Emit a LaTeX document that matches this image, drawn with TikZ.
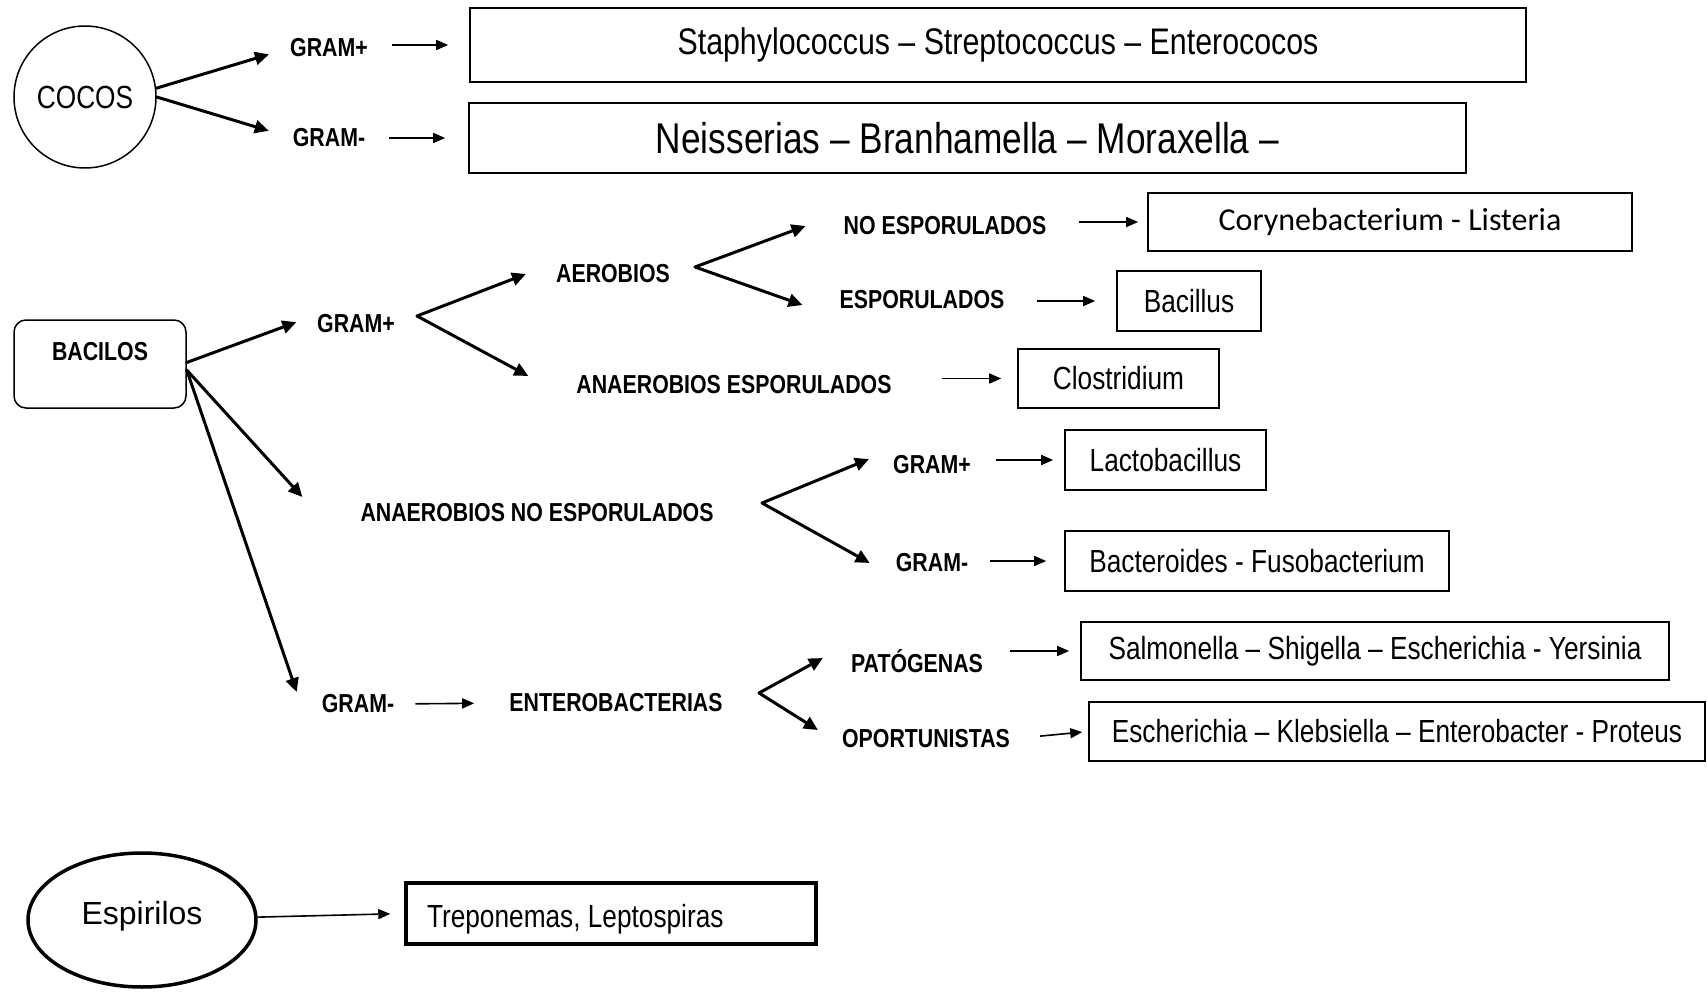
\documentclass[tikz,border=0pt]{standalone}
\usepackage{fontspec}
\setmainfont{Liberation Sans}[FakeStretch=0.82]
\newfontfamily\widefont{Liberation Sans}
\newfontfamily\calfont{Carlito}
\usetikzlibrary{arrows.meta,shapes.geometric}
\newcommand{\fsz}[1]{\fontsize{#1}{#1}\selectfont}

\begin{document}
\begin{tikzpicture}[x=1pt, y=-1pt,
  lbl/.style={font=\fsz{26}\bfseries, inner sep=0pt},
  genus/.style={draw, line width=1.6pt, inner sep=0pt, font=\fsz{32}},
  arr/.style={-{Triangle[length=14pt,width=13pt]}, line width=3pt, line cap=round},
  sarr/.style={-{Triangle[length=12pt,width=10pt]}, line width=1.6pt}
]
\useasboundingbox (0,0) rectangle (1707,992);

% cocos
\node[circle, draw, line width=1.5pt, minimum size=142pt, inner sep=0pt,
  font=\fsz{32}] (cocos) at (85,97) {COCOS};
\node[lbl] (gpc) at (329,48) {GRAM+};
\node[lbl] (gnc) at (329,138) {GRAM-};
\node[genus, minimum width=1056pt, minimum height=74pt, font=\fsz{37}]
  (staph) at (998,45) {Staphylococcus -- Streptococcus -- Enterococos};
\node[genus, minimum width=997pt, minimum height=70pt, font=\fsz{43}]
  (neis) at (967.5,138) {Neisserias -- Branhamella -- Moraxella --};

\draw[arr, shorten >=22pt] (cocos.7) -- (gpc.west);
\draw[arr, shorten >=25pt] (cocos.0) -- (gnc.west);
\draw[sarr, shorten <=24pt, shorten >=21pt] (gpc.east |- staph.west) -- (staph.west);
\draw[sarr, shorten <=24pt, shorten >=23pt] (gnc.east |- neis.west) -- (neis.west);

% bacilos
\node[draw, rounded corners=12pt, line width=1.5pt, minimum width=172pt,
  text height=40pt, text depth=48pt, inner ysep=0pt, font=\fsz{26}\bfseries]
  (bac) at (100,364) {BACILOS};
\node[lbl] (gpb) at (356,324) {GRAM+};
\node[lbl] (aer) at (613,274) {AEROBIOS};
\node[lbl] (anesp) at (734,385) {ANAEROBIOS ESPORULADOS};
\node[lbl] (noesp) at (945,226) {NO ESPORULADOS};
\node[lbl] (esp) at (922,300) {ESPORULADOS};
\node[genus, minimum width=484pt, minimum height=58pt, font=\calfont\fsz{32}]
  (coryb) at (1390,222) {Corynebacterium - Listeria};
\node[genus, minimum width=144pt, minimum height=60pt] (bacil) at (1189,301) {Bacillus};
\node[genus, minimum width=201pt, minimum height=59pt] (clos) at (1118.5,378.5) {Clostridium};

\draw[arr, shorten >=22pt] (bac.1) -- (gpb.north west);
\coordinate (v1) at (417,316);
\draw[arr] (v1) -- ([xshift=-30pt]aer.west);
\draw[arr] (v1) -- ([xshift=-48pt,yshift=9pt]anesp.west);
\coordinate (v2) at (695,267);
\draw[arr] (v2) -- ([xshift=-38pt]noesp.west);
\draw[arr] (v2) -- ([xshift=-37pt,yshift=-5pt]esp.west);
\draw[sarr, shorten <=33pt, shorten >=9pt] (noesp.east |- coryb.west) -- (coryb.west);
\draw[sarr, shorten <=32pt, shorten >=21pt] (esp.east |- bacil.west) -- (bacil.west);
\draw[sarr, shorten <=50pt, shorten >=16pt] (anesp.east |- clos.west) -- (clos.west);

% anaerobios no esporulados
\node[lbl] (anne) at (537,513) {ANAEROBIOS NO ESPORULADOS};
\node[lbl] (gpl) at (932,465) {GRAM+};
\node[lbl] (gml) at (932,563) {GRAM-};
\node[genus, minimum width=201pt, minimum height=60pt] (lacto) at (1165.5,460) {Lactobacillus};
\node[genus, minimum width=384pt, minimum height=60pt] (bact) at (1257,561) {Bacteroides - Fusobacterium};

\draw[arr] (bac.-4) -- ([xshift=-58pt,yshift=16pt]anne.west);
\coordinate (v3) at (762,503);
\draw[arr] (v3) -- ([xshift=-24pt,yshift=6pt]gpl.west);
\draw[arr] (v3) -- ([xshift=-26pt]gml.west);
\draw[sarr, shorten <=25pt, shorten >=11pt] (gpl.east |- lacto.west) -- (lacto.west);
\draw[sarr, shorten <=22pt, shorten >=18pt] (gml.east |- bact.west) -- (bact.west);

% gram- enterobacterias
\node[lbl] (gmb) at (358,704) {GRAM-};
\node[lbl] (entb) at (616,703) {ENTEROBACTERIAS};
\node[lbl] (pat) at (917,661) {PATÓGENAS};
\node[lbl] (opo) at (926,739) {OPORTUNISTAS};
\node[genus, minimum width=588pt, minimum height=58pt] (salb) at (1375,651)
  {Salmonella -- Shigella -- Escherichia - Yersinia};
\node[genus, minimum width=616pt, minimum height=59pt] (escb) at (1397,731.5)
  {Escherichia -- Klebsiella -- Enterobacter - Proteus};

\draw[arr] (bac.-4) -- ([xshift=-25pt,yshift=12pt]gmb.west);
\draw[sarr, shorten <=21pt, shorten >=35pt] (gmb.east) -- (entb.west);
\coordinate (v4) at (759,693);
\draw[arr] (v4) -- ([xshift=-28pt,yshift=3pt]pat.west);
\draw[arr] (v4) -- ([xshift=-24pt,yshift=9pt]opo.west);
\draw[sarr, shorten <=27pt, shorten >=11pt] (pat.east |- salb.west) -- (salb.west);
\draw[sarr, shorten <=30pt, shorten >=6pt] (opo.east) -- (escb.west);

% espirilos
\node[ellipse, draw, line width=3.5pt, minimum width=228pt, minimum height=134pt,
  font=\widefont\fsz{32}, text depth=14pt] (espi) at (142,920) {Espirilos};
\node[draw, line width=3.5pt, text width=368pt, inner xsep=21pt, minimum height=61pt,
  text height=28pt, text depth=0pt, align=flush left, font=\fsz{32}]
  (trep) at (611,913.5) {Treponemas, Leptospiras};
\draw[sarr, shorten >=14pt] (espi) -- (trep.west);
\end{tikzpicture}
\end{document}
